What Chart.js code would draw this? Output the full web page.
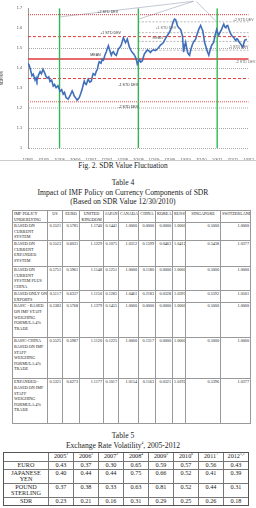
<!DOCTYPE html>
<html>
<head>
<meta charset="utf-8">
<script src="https://cdn.jsdelivr.net/npm/chart.js@4.4.1/dist/chart.umd.min.js"></script>
<style>
  html, body { margin: 0; padding: 0; background: #fff; }
  body { width: 256px; height: 508px; position: relative; overflow: hidden; font-family: "Liberation Serif", "DejaVu Serif", serif; color: #222; }
  #wrap { position: absolute; left: 0; top: 0; width: 256px; height: 160px; border-bottom: 1px solid #ccc; }
  .cap { position: absolute; left: 0; width: 246px; text-align: center; white-space: nowrap; }
  table { position: absolute; border-collapse: collapse; table-layout: fixed; }
  #t4 { left: 12px; top: 210px; width: 238px; font-size: 4.2px; line-height: 5.6px; }
  #t4 td { border: 1px solid #999; padding: 0 1px; vertical-align: top; text-align: right; overflow: hidden; white-space: nowrap; }
  #t4 td:first-child { text-align: left; }
  #t4 tr.h td { text-align: center; }
  #t4 tr.h td:first-child { text-align: left; }
  #t5 { left: 3px; top: 452px; width: 246px; font-size: 6.2px; line-height: 6.2px; border: 1.5px double #555; }
  #t5 td { border: 1px solid #777; padding: 0 1px; text-align: center; vertical-align: top; white-space: nowrap; overflow: hidden; }
  sup { font-size: 3.6px; line-height: 0; }
</style>
</head>
<body>
<div id="wrap"><canvas id="ch1"></canvas></div>

<div class="cap" style="top:161px;font-size:7.4px;">Fig. 2. SDR Value Fluctuation</div>
<div class="cap" style="top:178px;font-size:7.6px;">Table 4</div>
<div class="cap" style="top:188px;font-size:7.6px;">Impact of IMF Policy on Currency Components of SDR</div>
<div class="cap" style="top:197px;font-size:7.6px;">(Based on SDR Value 12/30/2010)</div>
<table id="t4"></table>

<div class="cap" style="top:431px;font-size:7.6px;">Table 5</div>
<div class="cap" style="top:441px;font-size:7.6px;">Exchange Rate Volatility<sup>4</sup>, 2005-2012</div>
<table id="t5"></table>

<script>
'use strict';

// ---- Fig. 2 data (months since Jan 2005 / SDR value) ----
const xLabels = ['1/3/05','7/1/05','1/2/06','7/3/06','1/2/07','7/2/07','1/2/08','7/1/08','1/2/09','7/1/09','1/4/10','7/1/10','1/3/11','7/1/11','1/3/12'];
const yTicks = [1, 1.1, 1.2, 1.3, 1.4, 1.5, 1.6, 1.7];
const sdrMonth = [0.0,0.4,0.9,1.5,2.0,2.7,3.1,3.4,4.0,4.6,5.1,5.7,6.3,6.8,7.3,7.9,8.4,9.0,9.6,10.1,10.7,11.4,12.2,12.8,13.4,13.9,14.5,15.3,16.0,16.8,17.2,17.6,18.2,18.7,19.1,19.5,20.0,20.6,21.0,21.4,21.8,22.2,22.6,22.9,23.5,24.1,24.5,24.8,25.5,26.0,26.4,26.8,27.1,27.8,28.2,28.7,29.2,29.8,30.2,30.6,31.1,31.7,32.1,32.5,33.0,33.6,34.0,34.4,35.0,35.5,35.9,36.3,36.7,37.1,37.5,37.8,38.2,38.6,39.1,39.7,40.3,40.9,41.3,41.6,42.0,42.4,42.9,43.5,43.9,44.3,44.9,45.5,46.0,46.6,47.2,47.8,48.5,49.3,49.9,50.4,51.0,51.6,52.3,53.1,53.6,54.2,54.8,55.4,55.8,56.2,56.6,56.9,57.5,58.1,58.5,58.8,59.0,59.2,59.6,60.0,60.4,60.7,61.1,61.5,62.0,62.6,63.2,63.8,64.2,64.6,65.1,65.7,66.1,66.5,66.9,67.2,67.6,68.0,68.4,68.8,69.3,69.9,70.3,70.7,71.2,71.8,72.2,72.6,73.1,73.7,74.1,74.5,74.9,75.3,75.6,76.0,76.6,77.2,77.7,78.3,78.7,79.1,79.5,79.8,80.4,81.0,81.4,81.7,82.1,82.5,82.9,83.3];
const sdrValue = [1.425,1.417,1.395,1.362,1.370,1.340,1.352,1.338,1.365,1.382,1.372,1.394,1.378,1.360,1.350,1.356,1.333,1.340,1.310,1.318,1.302,1.312,1.284,1.292,1.270,1.278,1.252,1.245,1.262,1.286,1.275,1.260,1.250,1.240,1.246,1.252,1.270,1.294,1.316,1.335,1.322,1.318,1.334,1.345,1.330,1.335,1.360,1.373,1.365,1.385,1.393,1.420,1.432,1.425,1.445,1.440,1.462,1.482,1.498,1.512,1.490,1.465,1.478,1.482,1.470,1.464,1.480,1.496,1.505,1.516,1.535,1.552,1.540,1.528,1.538,1.546,1.525,1.505,1.492,1.478,1.470,1.455,1.438,1.420,1.432,1.442,1.430,1.436,1.455,1.472,1.482,1.492,1.486,1.478,1.488,1.492,1.488,1.497,1.506,1.516,1.522,1.530,1.548,1.565,1.575,1.590,1.612,1.638,1.646,1.642,1.625,1.612,1.600,1.594,1.575,1.562,1.520,1.480,1.510,1.530,1.500,1.480,1.470,1.464,1.495,1.520,1.535,1.545,1.562,1.580,1.598,1.614,1.600,1.588,1.555,1.530,1.512,1.495,1.478,1.465,1.490,1.515,1.522,1.530,1.565,1.594,1.578,1.565,1.580,1.594,1.610,1.620,1.606,1.602,1.612,1.614,1.590,1.570,1.560,1.554,1.545,1.538,1.548,1.545,1.530,1.520,1.510,1.504,1.522,1.540,1.542,1.545];

// whole-period bands (+2sd, +1sd, mean, -1sd, -2sd)
const bandValue = [1.668, 1.558, 1.446, 1.348, 1.232];
const bandLabel = ['+2 STD DEV', '+1 STD DEV', 'MEAN', '-1 STD DEV', '-2 STD DEV'];
const bandLabelMonth = [26.4, 27.5, 23.7, 34.4, 34.4];
const bandLabelValue = [1.681, 1.574, 1.466, 1.314, 1.206];
// later-period bands
const band2Value = [1.632, 1.578, 1.534, 1.490];
const band2Start = 42, band2End = 84;
const band2LabelMonth = [78.0, 48.5, 47.4, 76.4, 79.0];
const band2LabelValue = [1.642, 1.603, 1.549, 1.505, 1.431];
// policy dates (green verticals)
const eventMonth = [12, 42, 72];
// callout leaders toward caption box above the chart
const calloutFrom = [[12.2, 1.657], [42.4, 1.647], [71.4, 1.637]];
const calloutTo = [[63, 1.735], [63, 1.735], [64, 1.735]];

const RED = '#e03a3a';
const styles = [
  { dash: [1, 1], width: 1, color: RED },
  { dash: [3, 2], width: 1, color: RED },
  { dash: [], width: 1.5, color: RED },
  { dash: [3, 2], width: 1, color: RED },
  { dash: [1, 1], width: 1.5, color: '#ee8a8a' }
];

const datasets = [];
datasets.push({
  label: 'SDR', data: sdrMonth.map((m, i) => ({ x: m, y: sdrValue[i] })),
  borderColor: '#3f6fb8', borderWidth: 1.6, pointRadius: 0, order: 0
});
bandValue.forEach((v, i) => datasets.push({
  data: [{ x: 0, y: v }, { x: 84, y: v }], borderColor: styles[i].color,
  borderWidth: styles[i].width, borderDash: styles[i].dash, pointRadius: 0, order: 2
}));
band2Value.forEach(v => datasets.push({
  data: [{ x: band2Start, y: v }, { x: band2End, y: v }], borderColor: '#9a9a9a',
  borderWidth: 0.7, borderDash: [2, 1.5], pointRadius: 0, order: 3
}));
eventMonth.forEach(m => datasets.push({
  data: [{ x: m, y: 1 }, { x: m, y: 1.7 }], borderColor: '#35b455',
  borderWidth: 1.4, pointRadius: 0, order: 1
}));
calloutFrom.forEach((p, i) => datasets.push({
  data: [{ x: p[0], y: p[1] }, { x: calloutTo[i][0], y: calloutTo[i][1] }], borderColor: '#9aa3b8',
  borderWidth: 0.6, pointRadius: 0, clip: false, order: 4
}));

const textPlugin = {
  id: 'bandText',
  afterDatasetsDraw(chart) {
    const { ctx, scales: { x, y } } = chart;
    ctx.save();
    ctx.font = '3.6px "Liberation Sans", Arial, sans-serif';
    ctx.fillStyle = '#333';
    ctx.textAlign = 'left';
    ctx.textBaseline = 'middle';
    bandLabel.forEach((t, i) => ctx.fillText(t, x.getPixelForValue(bandLabelMonth[i]), y.getPixelForValue(bandLabelValue[i])));
    ctx.fillStyle = '#666';
    bandLabel.forEach((t, i) => ctx.fillText(t, x.getPixelForValue(band2LabelMonth[i]), y.getPixelForValue(band2LabelValue[i])));
    ctx.restore();
  }
};

const gridColor = v => {
  const r = Math.round(v * 10) / 10;
  if (r === 1.2) return '#d4d4d4';
  if (r === 1.5 || r === 1.4 || r === 1.1 || r === 1) return '#a8a8a8';
  return 'rgba(0,0,0,0)';
};

new Chart(document.getElementById('ch1').getContext('2d'), {
  type: 'line',
  data: { datasets },
  plugins: [textPlugin],
  options: {
    responsive: true, maintainAspectRatio: false, animation: false,
    layout: { padding: { top: 5, right: 7, left: 0, bottom: 0 } },
    plugins: { legend: { display: false }, tooltip: { enabled: false } },
    scales: {
      x: {
        type: 'linear', min: 0, max: 84,
        afterFit: s => { s.height = 12; },
        grid: { display: false },
        border: { display: false },
        ticks: {
          stepSize: 6, autoSkip: false, maxRotation: 0, padding: 2,
          font: { size: 3.8, family: 'Liberation Sans' }, color: '#555',
          callback: v => xLabels[Math.round(v / 6)]
        }
      },
      y: {
        min: 1, max: 1.7,
        afterFit: s => { s.width = 28; },
        afterBuildTicks: s => { s.ticks = yTicks.map(v => ({ value: v })); },
        border: { display: true, dash: [1, 1], color: '#999' },
        grid: {
          drawTicks: false,
          color: c => gridColor(c.tick.value),
          lineWidth: c => Math.round(c.tick.value * 10) === 12 ? 2 : 1
        },
        title: { display: true, text: 'SDR/US', font: { size: 3.8, family: 'Liberation Sans' }, color: '#333', padding: 0 },
        ticks: {
          padding: 6, font: { size: 3.8, family: 'Liberation Sans' }, color: '#555',
          callback: v => (v === 1 ? '1' : v.toFixed(1))
        }
      }
    }
  }
});

// ---- Table 4 data ----
const t4Heads = ['IMF POLICY<br>UNDERLYING', 'US', 'EURO', 'UNITED<br>KINGDOM', 'JAPAN', 'CANADA', 'CHINA', 'KOREA', 'RUSSIA', 'SINGAPORE', 'SWITZERLAND'];
const t4ColWidth = [35, 15, 17, 24, 15, 20, 17, 17, 13, 35, 30];
const t4Policy = [
  'BASED ON<br>CURRENT<br>SYSTEM',
  'BASED ON<br>CURRENT<br>EXPANDED<br>SYSTEM',
  'BASED ON<br>CURRENT<br>SYSTEM PLUS<br>CHINA',
  'BASED ONLY ON<br>EXPORTS',
  'BASIC - BASED<br>ON IMF STAFF<br>WEIGHING<br>FORMULA 4%<br>TRADE',
  'BASIC-CHINA<br>BASED ON IMF<br>STAFF<br>WEIGHING<br>FORMULA 4%<br>TRADE',
  'EXPANDED -<br>BASED ON IMF<br>STAFF<br>WEIGHING<br>FORMULA 4%<br>TRADE'
];
const t4Rows = [
  ['0.5521','0.5785','1.1740','0.1441','1.0000','0.0000','0.0000','1.0000','0.5000','1.0000'],
  ['0.5523','0.6031','1.1229','0.1075','1.0312','0.1599','0.0463','1.0412','0.5438','1.0377'],
  ['0.5751','0.5961','1.1148','0.1251','1.0000','0.1180','0.0000','1.0000','0.5000','1.0000'],
  ['0.5117','0.6337','1.1150','0.1285','1.0461','0.2183','0.0328','1.0395','0.5592','1.0501'],
  ['0.5383','0.5768','1.1379','0.1455','1.0000','0.0000','0.0000','1.0000','0.5000','1.0000'],
  ['0.5525','0.5987','1.1120','0.1225','1.0000','0.1317','0.0000','1.0000','0.5000','1.0000'],
  ['0.5321','0.6273','1.1177','0.1017','1.0154','0.1163','0.0321','1.0192','0.5396','1.0377']
];
const t4RowHeight = [11, 18, 26, 24, 12, 35, 41, 45];

// ---- Table 5 data ----
const t5Years = ['2005<sup>1</sup>','2006<sup>2</sup>','2007<sup>3</sup>','2008<sup>4</sup>','2009<sup>5</sup>','2010<sup>6</sup>','2011<sup>7</sup>','2012<sup>1,2</sup>'];
const t5Names = ['EURO', 'JAPANESE<br>YEN', 'POUND<br>STERLING', 'SDR'];
const t5Euro = [0.43, 0.37, 0.30, 0.65, 0.59, 0.57, 0.56, 0.43];
const t5Yen = [0.40, 0.44, 0.44, 0.75, 0.66, 0.52, 0.41, 0.39];
const t5Pound = [0.37, 0.38, 0.33, 0.63, 0.81, 0.52, 0.44, 0.31];
const t5Sdr = [0.23, 0.21, 0.16, 0.31, 0.29, 0.25, 0.26, 0.18];
const t5RowHeight = [9, 8, 14, 14, 8];

function buildT4() {
  let html = '<colgroup>' + t4ColWidth.map(w => `<col style="width:${w}px">`).join('') + '</colgroup>';
  html += `<tr class="h" style="height:${t4RowHeight[0]}px">` + t4Heads.map(h => `<td>${h}</td>`).join('') + '</tr>';
  t4Rows.forEach((r, i) => {
    html += `<tr style="height:${t4RowHeight[i + 1]}px"><td>${t4Policy[i]}</td>` + r.map(v => `<td>${v}</td>`).join('') + '</tr>';
  });
  document.getElementById('t4').innerHTML = html;
}

function buildT5() {
  const vals = [t5Euro, t5Yen, t5Pound, t5Sdr];
  let html = '<colgroup><col style="width:45px">' + t5Years.map(() => '<col>').join('') + '</colgroup>';
  html += `<tr style="height:${t5RowHeight[0]}px"><td></td>` + t5Years.map(y => `<td>${y}</td>`).join('') + '</tr>';
  vals.forEach((r, i) => {
    html += `<tr style="height:${t5RowHeight[i + 1]}px"><td>${t5Names[i]}</td>` + r.map(v => `<td>${v.toFixed(2)}</td>`).join('') + '</tr>';
  });
  document.getElementById('t5').innerHTML = html;
}

buildT4();
buildT5();
</script>
</body>
</html>
